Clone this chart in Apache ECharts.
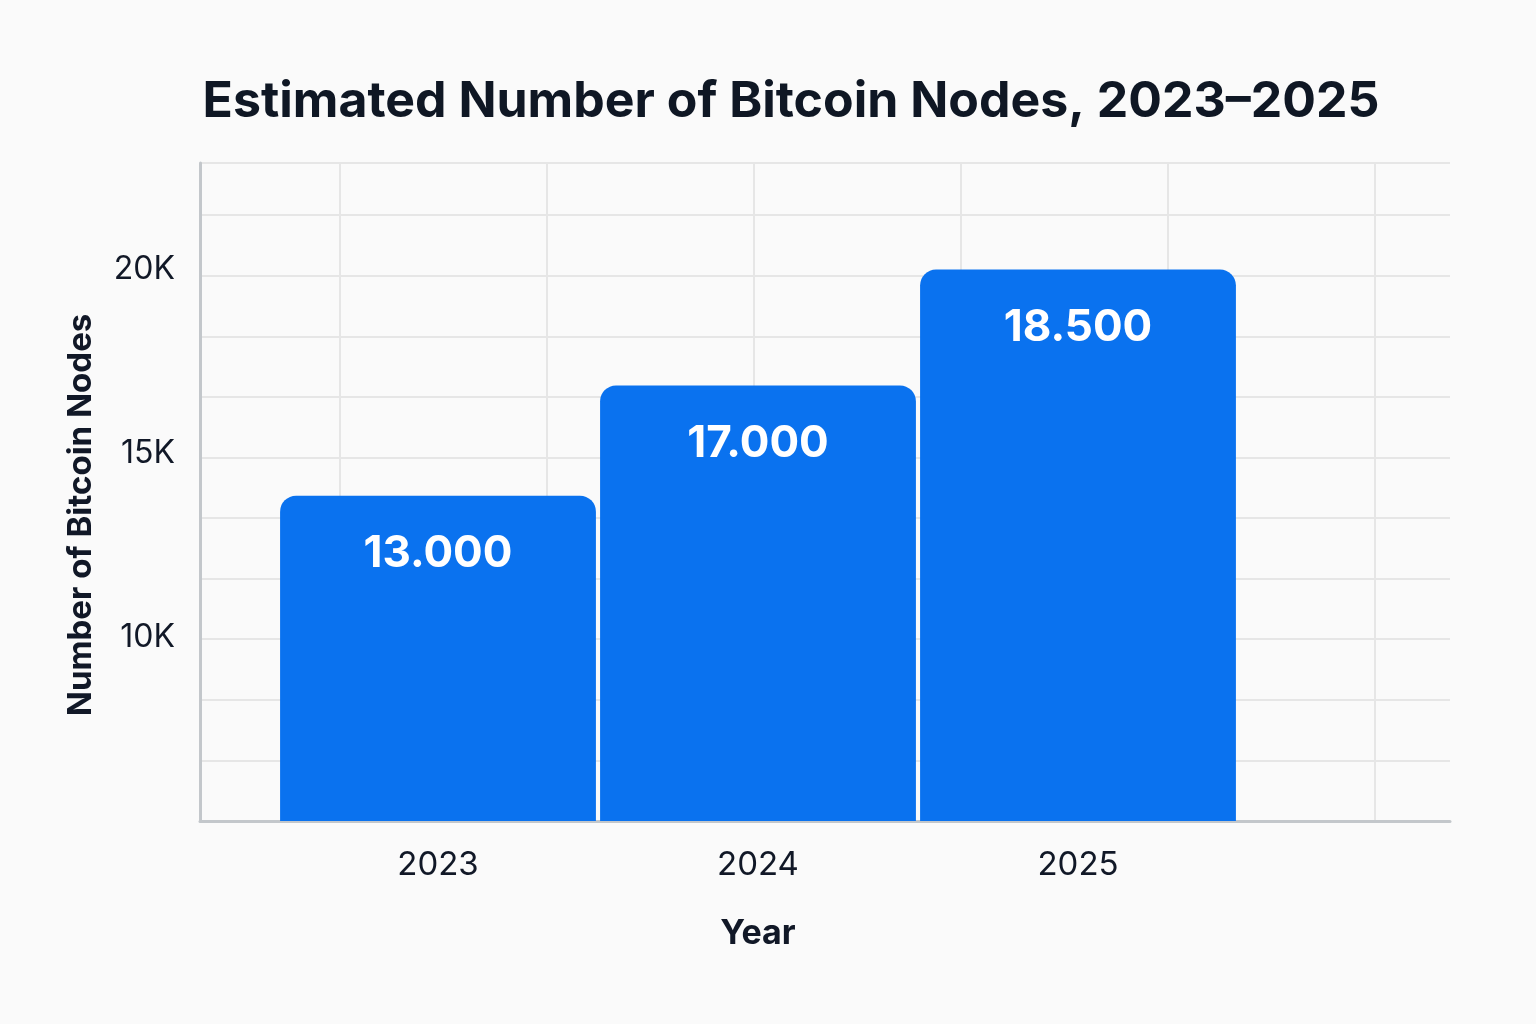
<!DOCTYPE html>
<html>
<head>
<meta charset="utf-8">
<script src="https://cdn.jsdelivr.net/npm/echarts@6/dist/echarts.min.js"></script>
<style>
html,body{margin:0;padding:0;background:#fafafa;}
#c{width:1536px;height:1024px;}
</style>
</head>
<body>
<div id="c"></div>
<script>
// Data
const years = ['2023', '2024', '2025'];
// bar heights as drawn (thousands of nodes)
const barHeights = [13.85, 16.85, 20.0];
// value labels printed on the bars
const barLabels = ['13.000', '17.000', '18.500'];
// y-axis tick labels (thousands)
const yTicks = [10, 15, 20];

const FONT = 'Inter, "Noto Sans", sans-serif';
const chart = echarts.init(document.getElementById('c'), null, {renderer: 'canvas'});

const option = {
  backgroundColor: '#fafafa',
  animation: false,
  title: {
    text: 'Estimated Number of Bitcoin Nodes, 2023–2025',
    left: 786, top: 72, textAlign: 'center',
    textStyle: {fontFamily: FONT, fontSize: 50, fontWeight: 'bold', color: '#0f1724'}
  },
  grid: [
    {left: 200, right: 86, top: 163, bottom: 203},
    {left: 340, width: 1035, top: 163, bottom: 203},
    {left: 278, width: 960, top: 163, bottom: 203}
  ],
  xAxis: [
    {gridIndex: 0, type: 'value', min: 0, max: 1, axisLabel: {show: false}, axisTick: {show: false},
     splitLine: {show: false}, axisLine: {show: true, onZero: false, lineStyle: {color: '#c3c7cb', width: 3}}},
    {gridIndex: 1, type: 'value', min: 0, max: 5, interval: 1, axisLabel: {show: false}, axisTick: {show: false},
     axisLine: {show: false}, splitLine: {show: true, lineStyle: {color: '#e6e6e6', width: 2}}},
    {gridIndex: 2, type: 'category', data: years, axisLine: {show: false}, axisTick: {show: false},
     axisLabel: {fontFamily: FONT, fontSize: 33, color: '#111827', margin: 28},
     name: 'Year', nameLocation: 'middle', nameGap: 96,
     nameTextStyle: {fontFamily: FONT, fontSize: 34, fontWeight: 'bold', color: '#111827'}}
  ],
  yAxis: [
    {gridIndex: 0, type: 'value', min: 5, max: 22.9, interval: 5,
     axisLine: {show: true, lineStyle: {color: '#c3c7cb', width: 3}}, axisTick: {show: false},
     splitLine: {show: false},
     axisLabel: {fontFamily: FONT, fontSize: 32, color: '#111827', margin: 25,
       formatter: v => yTicks.indexOf(v) >= 0 ? v + 'K' : ''},
     name: 'Number of Bitcoin Nodes', nameLocation: 'middle', nameGap: 102,
     nameTextStyle: {fontFamily: FONT, fontSize: 33, fontWeight: 'bold', color: '#111827',
       padding: [0, 46, 0, 0]}},
    {gridIndex: 0, type: 'value', min: 0, max: 10.86, interval: 1, position: 'left',
     axisLine: {show: false}, axisTick: {show: false}, axisLabel: {show: false},
     splitLine: {show: true, lineStyle: {color: '#e6e6e6', width: 2}}},
    {gridIndex: 1, type: 'value', min: 0, max: 1, show: false},
    {gridIndex: 2, type: 'value', min: 5, max: 22.9, show: false}
  ],
  series: [{
    type: 'bar', xAxisIndex: 2, yAxisIndex: 3,
    data: barHeights,
    barCategoryGap: '1.3%',
    itemStyle: {color: '#0a72ef', borderRadius: [16, 16, 0, 0]},
    label: {show: true, position: 'insideTop', distance: 36,
      formatter: p => barLabels[p.dataIndex],
      fontFamily: FONT, fontSize: 44, fontWeight: 'bold', color: '#ffffff'}
  }]
};
chart.setOption(option);
</script>
</body>
</html>
